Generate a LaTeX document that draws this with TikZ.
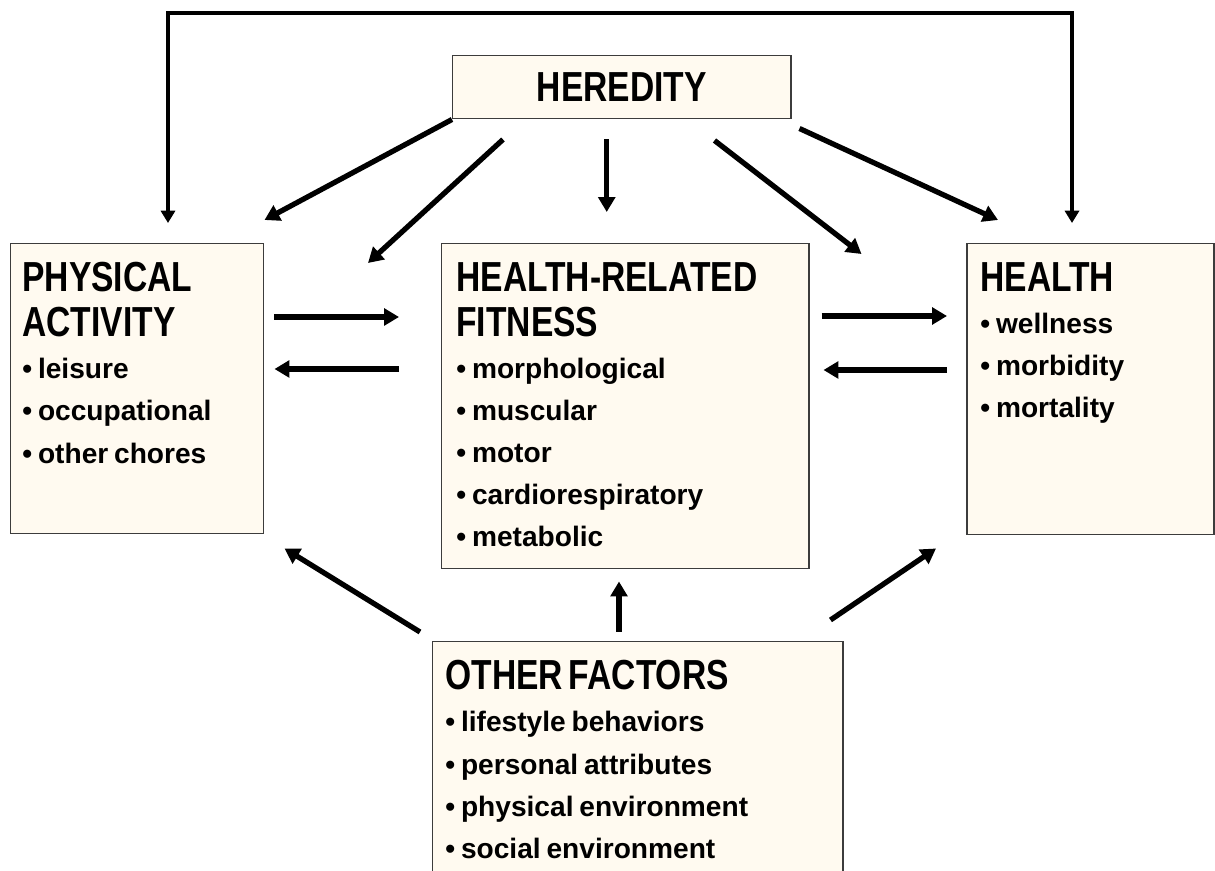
\documentclass[tikz,border=0pt]{standalone}
\usepackage{fontspec}
\setmainfont{Liberation Sans}
\newfontfamily\headfamily[FakeStretch=0.8]{Liberation Sans}
\usetikzlibrary{arrows.meta}
\definecolor{boxfill}{RGB}{255,250,240}
\definecolor{boxline}{RGB}{60,60,60}
\newcommand{\headfnt}{\headfamily\bfseries\fontsize{23.9pt}{25.5pt}\selectfont}
\newcommand{\bodyfnt}{\normalfont\bfseries\fontsize{16pt}{24pt}\selectfont}
\setlength{\parindent}{0pt}
\begin{document}
\begin{tikzpicture}[
	box/.style={draw=boxline,fill=boxfill,line width=0.85pt,anchor=north west,inner sep=0pt},
	txt/.style={anchor=north west,inner sep=0pt,text width=#1,align=left},
	arr/.style={line width=3pt,-{Triangle[length=8.5pt,width=9.5pt]}},
	looparr/.style={line width=2.6pt,{Triangle[length=7pt,width=8pt]}-{Triangle[length=7pt,width=8pt]}}
]
	\clip (0,0) rectangle (24.3,-17.42);
	\node[box,minimum width=6.76cm,minimum height=1.26cm] (hered) at (9.04,-1.1) {\headfnt HEREDITY};
	\node[box,minimum width=5.06cm,minimum height=5.8cm] (pa) at (0.2,-4.86) {};
	\node[box,minimum width=7.34cm,minimum height=6.5cm] (hrf) at (8.82,-4.86) {};
	\node[box,minimum width=4.94cm,minimum height=5.82cm] (health) at (19.32,-4.86) {};
	\node[box,minimum width=8.2cm,minimum height=5cm] (other) at (8.64,-12.82) {};
	\node[txt=4.8cm] (patxt) at ([shift={(0.24,-0.38)}]pa.north west) {\headfnt PHYSICAL\par ACTIVITY\par\bodyfnt • leisure\par • occupational\par • other chores\par};
	\node[txt=7cm] (hrftxt) at ([shift={(0.3,-0.38)}]hrf.north west) {\headfnt HEALTH-RELATED\par FITNESS\par\bodyfnt • morphological\par • muscular\par • motor\par • cardiorespiratory\par • metabolic\par};
	\node[txt=4.6cm] (healthtxt) at ([shift={(0.28,-0.38)}]health.north west) {\headfnt HEALTH\par\bodyfnt • wellness\par • morbidity\par • mortality\par};
	\node[txt=7.9cm] (othertxt) at ([shift={(0.26,-0.38)}]other.north west) {\headfnt OTHER FACTORS\par\bodyfnt • lifestyle behaviors\par • personal attributes\par • physical environment\par • social environment\par};
	\draw[looparr] ([shift={(3.16,0.4)}]pa.north west) -- ++(0,4.2) -| ([shift={(2.12,0.4)}]health.north west);
	\draw[arr] (hered.south west) -- ([yshift=0.46cm]pa.north east);
	\draw[arr] ([shift={(1.02,-0.4)}]hered.south west) -- ([shift={(-1.46,-0.4)}]hrf.north west);
	\coordinate (hmid) at ([shift={(-0.3,-0.4)}]hered.south);
	\draw[arr,shorten >=0.62cm] (hmid) -- (hmid |- hrf.north);
	\draw[arr] ([shift={(-1.54,-0.42)}]hered.south east) -- ([shift={(1.04,-0.22)}]hrf.north east);
	\draw[arr] ([shift={(0.16,-0.18)}]hered.south east) -- ([shift={(0.64,0.46)}]health.north west);
	\draw[arr] ([shift={(0.2,-1.48)}]pa.north east) -- ([shift={(-0.84,-1.48)}]hrf.north west);
	\draw[arr] ([shift={(-0.84,-2.52)}]hrf.north west) -- ([shift={(0.2,-2.52)}]pa.north east);
	\draw[arr] ([shift={(0.24,-1.46)}]hrf.north east) -- ([shift={(-0.38,-1.46)}]health.north west);
	\draw[arr] ([shift={(-0.38,-2.54)}]health.north west) -- ([shift={(0.28,-2.54)}]hrf.north east);
	\draw[arr] ([shift={(-0.24,0.18)}]other.north west) -- ([shift={(0.4,-0.28)}]pa.south east);
	\draw[arr] ([shift={(3.74,0.18)}]other.north west) -- ([shift={(3.56,-0.24)}]hrf.south west);
	\draw[arr] ([shift={(-0.26,0.42)}]other.north east) -- ([shift={(-0.6,-0.26)}]health.south west);
\end{tikzpicture}
\end{document}
